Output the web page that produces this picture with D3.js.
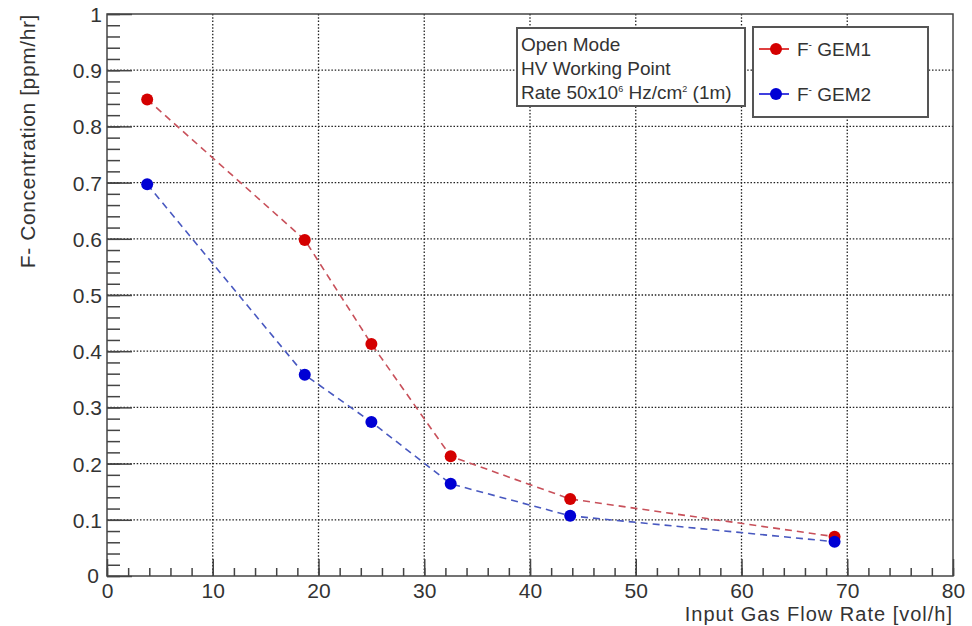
<!DOCTYPE html>
<html>
<head>
<meta charset="utf-8">
<script src="https://cdn.jsdelivr.net/npm/d3@7"></script>
<style>
  body { margin: 0; background: #fff; }
  text { font-family: "Liberation Sans", Arial, sans-serif; fill: #333; }
</style>
</head>
<body>
<div id="chart"></div>
<script>
// data
const flowRate = [3.8, 18.7, 25.0, 32.5, 43.8, 68.8];
const gem1 = [0.848, 0.598, 0.413, 0.213, 0.137, 0.070];
const gem2 = [0.697, 0.358, 0.274, 0.164, 0.107, 0.061];
const xTicks = [0, 10, 20, 30, 40, 50, 60, 70, 80];
const yTicks = [0, 0.1, 0.2, 0.3, 0.4, 0.5, 0.6, 0.7, 0.8, 0.9, 1];
const infoLines = ["Open Mode", "HV Working Point"];

const width = 972;
const height = 626;
const padL = 107, padR = 953, padT = 14, padB = 576;

const svg = d3.select("#chart").append("svg")
    .attr("width", width)
    .attr("height", height);

//----------------------------SCALES----------------------------//
const x = d3.scaleLinear().domain([0, 80]).range([padL, padR]);
const y = d3.scaleLinear().domain([0, 1]).range([padB, padT]);

//-----------------------------GRID-----------------------------//
const grid = svg.append("g");
grid.selectAll(".gx")
    .data(xTicks.slice(1, -1))
    .enter().append("line")
    .attr("x1", d => x(d)).attr("x2", d => x(d))
    .attr("y1", padT).attr("y2", padB)
    .attr("stroke", "#222").attr("stroke-width", 1.3)
    .attr("stroke-dasharray", "1.5,1.8");
grid.selectAll(".gy")
    .data(yTicks.slice(1, -1))
    .enter().append("line")
    .attr("x1", padL).attr("x2", padR)
    .attr("y1", d => y(d)).attr("y2", d => y(d))
    .attr("stroke", "#222").attr("stroke-width", 1.3)
    .attr("stroke-dasharray", "1.5,1.8");

//-----------------------------AXES-----------------------------//
// minor ticks
svg.append("g")
    .attr("transform", "translate(0," + padB + ")")
    .call(d3.axisTop(x).tickValues(d3.range(0, 81, 2)).tickSize(8).tickFormat(""))
    .call(g => g.select(".domain").remove())
    .selectAll("line").attr("stroke", "#444").attr("stroke-width", 1.5);

svg.append("g")
    .attr("transform", "translate(" + padL + ",0)")
    .call(d3.axisRight(y).tickValues(d3.range(0, 51).map(i => i * 0.02)).tickSize(13).tickFormat(""))
    .call(g => g.select(".domain").remove())
    .selectAll("line").attr("stroke", "#444").attr("stroke-width", 1.5);

// major ticks
const xAxis = svg.append("g")
    .attr("transform", "translate(0," + padB + ")")
    .call(d3.axisTop(x).tickValues(xTicks).tickSize(17).tickFormat(d3.format("d")));
xAxis.select(".domain").remove();
xAxis.selectAll("line").attr("stroke", "#444").attr("stroke-width", 1.5);
xAxis.selectAll("text")
    .attr("y", 22)
    .attr("dy", 0)
    .style("font-size", "21px")
    .style("text-anchor", "middle");

const yAxis = svg.append("g")
    .attr("transform", "translate(" + padL + ",0)")
    .call(d3.axisRight(y).tickValues(yTicks).tickSize(25).tickFormat(d => d === 0 || d === 1 ? d3.format("d")(d) : d3.format(".1f")(d)));
yAxis.select(".domain").remove();
yAxis.selectAll("line").attr("stroke", "#444").attr("stroke-width", 1.5);
yAxis.selectAll("text")
    .attr("x", -5)
    .attr("dy", "0.36em")
    .style("font-size", "21px")
    .style("text-anchor", "end");
// ROOT nudges the zero label to the left
yAxis.selectAll("text").filter(d => d === 0).attr("x", -8).attr("dy", "0.3em");

// frame
svg.append("rect")
    .attr("x", padL).attr("y", padT)
    .attr("width", padR - padL).attr("height", padB - padT)
    .attr("fill", "none").attr("stroke", "#444").attr("stroke-width", 1.5);

//-----------------------------TITLES---------------------------//
svg.append("text")
    .attr("x", padR).attr("y", 621)
    .style("font-size", "20px")
    .style("letter-spacing", "1px")
    .style("text-anchor", "end")
    .text("Input Gas Flow Rate [vol/h]");

svg.append("text")
    .attr("transform", "translate(35," + padT + ") rotate(-90)")
    .style("font-size", "21px")
    .style("letter-spacing", "0.6px")
    .style("text-anchor", "end")
    .text("F- Concentration [ppm/hr]");

//----------------------------LINES-----------------------------//
const series = [
    { name: "GEM1", values: gem1, marker: "#d40000", line: "#c8505a" },
    { name: "GEM2", values: gem2, marker: "#0000d4", line: "#4858c0" }
];

const line = d3.line()
    .x((d, i) => x(flowRate[i]))
    .y(d => y(d));

const lines = svg.selectAll(".series")
    .data(series)
    .enter().append("g");

lines.append("path")
    .attr("d", d => line(d.values))
    .attr("fill", "none")
    .attr("stroke", d => d.line)
    .attr("stroke-width", 1.6)
    .attr("stroke-dasharray", "7,5");

lines.each(function(s) {
    d3.select(this).selectAll("circle")
        .data(s.values)
        .enter().append("circle")
        .attr("cx", (d, i) => x(flowRate[i]))
        .attr("cy", d => y(d))
        .attr("r", 6)
        .attr("fill", s.marker);
});

//----------------------------INFO BOX--------------------------//
const info = svg.append("g");
info.append("rect")
    .attr("x", 517).attr("y", 28)
    .attr("width", 228).attr("height", 78)
    .attr("fill", "#fff").attr("stroke", "#555").attr("stroke-width", 2);
info.selectAll(".info")
    .data(infoLines)
    .enter().append("text")
    .attr("x", 521)
    .attr("y", (d, i) => 51 + i * 24)
    .style("font-size", "19px")
    .text(d => d);
const rate = info.append("text")
    .attr("x", 521).attr("y", 99)
    .style("font-size", "19px");
rate.append("tspan").text("Rate 50x10");
rate.append("tspan").attr("dy", -7).style("font-size", "9px").text("6");
rate.append("tspan").attr("dy", 7).text(" Hz/cm");
rate.append("tspan").attr("dy", -7).style("font-size", "9px").text("2");
rate.append("tspan").attr("dy", 7).text(" (1m)");

//----------------------------LEGEND----------------------------//
const legend = svg.append("g");
legend.append("rect")
    .attr("x", 753).attr("y", 27)
    .attr("width", 175).attr("height", 90)
    .attr("fill", "#fff").attr("stroke", "#555").attr("stroke-width", 2);

const items = legend.selectAll(".item")
    .data(series)
    .enter().append("g")
    .attr("transform", (d, i) => "translate(0," + (49 + i * 45) + ")");
items.append("line")
    .attr("x1", 759).attr("x2", 789)
    .attr("stroke", d => d.marker).attr("stroke-width", 1.5);
items.append("circle")
    .attr("cx", 776).attr("r", 6)
    .attr("fill", d => d.marker);
const lt = items.append("text")
    .attr("x", 797).attr("y", 7)
    .style("font-size", "19px");
lt.append("tspan").text("F");
lt.append("tspan").attr("dy", -8).style("font-size", "10px").text("-");
lt.append("tspan").attr("dy", 8).text(d => " " + d.name);
</script>
</body>
</html>
